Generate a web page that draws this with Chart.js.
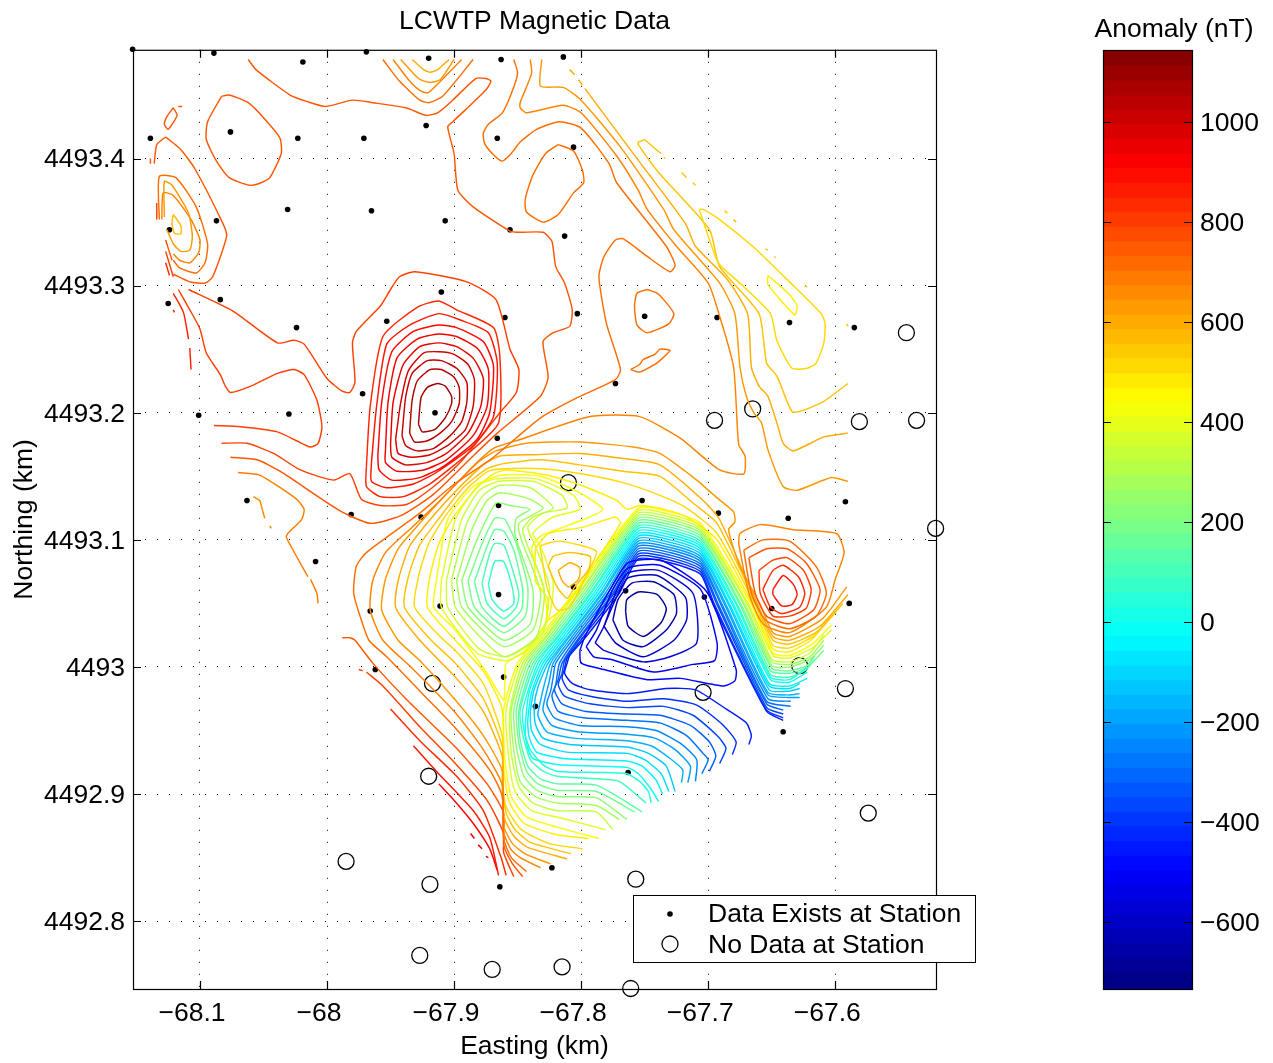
<!DOCTYPE html>
<html><head><meta charset="utf-8">
<script src="https://cdn.jsdelivr.net/npm/chart.js@4"></script>
<style>html,body{margin:0;padding:0;background:#fff;width:1273px;height:1063px;overflow:hidden}
canvas{position:absolute;top:0}</style></head>
<body>
<canvas id="map" width="1075" height="1063" style="left:0"></canvas>
<canvas id="bar" width="198" height="1063" style="left:1075px"></canvas>
<script>
// All map coordinates are metres relative to Easting -68 km / Northing 4493 km
const eastBaseKm = -68, northBaseKm = 4493;
const xRangeM = [-152.7, 479.3], yRangeM = [-253.4, 485.6];
const xTicks = [-68.1,-68,-67.9,-67.8,-67.7,-67.6];
const yTicks = [4492.8,4492.9,4493,4493.1,4493.2,4493.3,4493.4];
const cbTicks = [-600,-400,-200,0,200,400,600,800,1000];
const cbEdges = [-734,-705,-676,-646,-617,-588,-559,-529,-500,-471,-442,-412,-383,-354,-325,-295,-266,-237,-208,-178,-149,-120,-91,-61,-32,-3,26,56,85,114,143,173,202,231,260,290,319,348,377,407,436,465,494,524,553,582,611,641,670,699,728,758,787,816,845,875,904,933,962,992,1021,1050,1079,1109,1144];

const stationsData = [-153,486,-89,483,-19,476,31,484,80,479,137,478,186,480,-139,416,-76,421,-23,416,29,416,78,426,134,416,194,409,-31,360,35,359,93,351,-87,351,-124,344,144,344,187,339,-125,286,-84,289,90,295,-24,267,47,272,140,275,197,278,250,276,307,275,364,271,415,267,28,215,227,223,-101,198,-30,199,85,200,134,180,-63,131,19,120,74,118,135,127,248,131,308,121,363,117,408,130,-9,83,34,44,89,48,135,57,194,63,235,60,297,55,350,46,411,50,38,-2,139,-8,164,-31,359,-51,237,-83,177,-158,136,-173];
const stationsNoData = [456,263,305,194,335,203,419,193,464,194,190,145,479,109,372,1,83,-13,296,-20,408,-17,80,-86,426,-115,15,-153,81,-171,243,-167,73,-227,130,-238,185,-236,239,-253];

// Closed rings: [level, x,y,x,y...]
const peakRings = [
[1080,[72,191,75,185,85,187,93,196,98,207,98,213,93,221,87,223,79,220,74,212]],
[1050,[65,184,69,177,79,178,89,184,98,193,104,207,104,220,100,228,90,234,81,234,71,225,67,210]],
[1020,[59,182,62,174,71,170,84,172,97,182,106,193,110,208,110,224,102,235,90,241,79,241,67,231,62,213]],
[990,[54,179,56,168,67,165,81,167,96,175,109,187,115,205,116,226,111,238,100,246,88,248,76,247,64,233,58,208]],
[960,[50,175,51,165,62,159,79,161,94,168,111,184,121,205,123,227,115,243,102,252,88,255,73,252,60,238,52,208]],
[930,[46,171,46,161,55,154,76,155,94,163,115,182,126,205,127,234,119,250,102,260,88,262,71,258,55,243,48,208]],
[900,[40,166,41,155,51,147,73,149,92,158,118,179,128,200,131,237,123,256,102,267,88,269,68,264,51,248,43,208]],
[870,[35,161,35,146,47,141,68,144,86,153,115,174,131,197,134,239,127,263,105,273,88,278,65,269,47,254,39,205]],
[840,[31,158,31,142,42,134,60,134,81,144,111,168,135,192,136,245,131,267,102,281,88,288,71,283,44,260,34,205]]
];
const sidePeakRings = [
[870,[351,61,359,72,367,65,370,57,366,49,358,48,351,57]],
[830,[343,61,351,76,359,80,371,71,376,58,372,47,358,42,349,47]],
[790,[340,76,351,84,362,86,375,76,381,61,377,46,364,40,351,40,341,58]],
[750,[332,86,346,93,362,93,377,82,388,61,383,45,364,34,346,40,337,58]],
[710,[328,92,343,100,364,99,385,79,393,58,385,40,364,30,345,37,334,58]],
[670,[324,97,325,105,341,112,367,108,401,105,407,90,400,69,393,47,364,27,343,34,332,58]],
[590,[182,76,191,82,199,78,198,69,190,63,185,68]],
[550,[174,79,178,87,191,90,207,87,206,77,195,63,189,54,181,63]],
[510,[169,87,168,95,183,99,212,91,206,76,191,47,181,45,173,63]],
[470,[164,93,174,105,202,110,227,118,231,113,212,84,199,63,183,44,173,37,174,53,164,68]],
[-690,[235,44,236,53,245,59,260,57,267,46,263,35,249,24,237,32]],
[-650,[225,37,229,53,240,66,257,67,273,57,275,42,267,29,249,16,233,21]],
[-610,[218,32,227,53,237,70,260,72,282,55,283,37,273,21,249,8,227,19]],
[-570,[211,19,218,32,227,58,237,74,261,76,288,58,291,19,270,8,249,4,218,13]],
[-530,[204,16,212,29,225,61,237,78,262,80,294,61,307,19,305,5,288,2,257,-4,223,6,210,8]],
[-490,[199,13,203,24,224,63,237,82,263,84,299,59,322,-2,321,-11,312,-15,278,-9,252,-10,218,-2,200,3]]
];
const lobeRings = [
[70,[127,65,132,83,139,83,145,66,147,50,139,44,130,53]],
[110,[122,66,128,89,132,97,139,96,144,83,151,58,149,47,139,38,126,50]],
[150,[116,67,126,95,132,108,139,107,147,92,154,61,153,45,139,32,122,47]],
[190,[111,68,122,97,132,117,140,116,149,97,158,63,156,40,139,27,116,47]],
[230,[106,68,118,100,133,129,144,127,160,124,149,117,148,104,162,61,160,34,139,21,111,47]],
[270,[102,68,114,108,126,131,136,137,157,133,170,125,151,113,153,100,168,59,162,29,139,16,106,47]],
[310,[98,68,110,113,123,135,136,143,160,141,178,125,162,118,154,108,158,95,171,61,165,24,140,8,123,21,101,47]],
[350,[94,68,106,116,120,139,135,146,162,146,185,135,189,125,170,121,158,110,164,95,175,63,170,27,157,16,141,8,120,14,95,47]],
[390,[90,68,101,116,119,143,133,148,165,148,194,135,199,124,178,118,162,105,168,95,178,66,174,37,157,13,141,5,118,11,90,47]],
[430,[86,68,95,116,115,142,138,151,168,150,199,137,217,124,202,116,168,103,161,93,170,63,173,37,156,13,141,3,140,-9,139,-26,126,-5,101,29,84,47]],
[750,[-83,449,-77,450,-62,444,-48,430,-37,416,-36,404,-45,385,-52,381,-61,379,-77,385,-87,398,-95,415,-94,429]],
[750,[-121,440,-118,434,-125,423,-128,427,-126,433]],
[710,[182,411,172,404,162,387,156,368,157,358,170,350,182,356,194,373,202,381,201,391,194,406]],
[710,[239,234,246,238,249,242,258,246,262,250,266,250,270,249,263,242,258,238,246,232]],
[710,[252,297,244,294,242,284,244,269,252,263,269,270,273,278,265,289,260,294]],
[510,[293,360,296,360,309,352,336,330,364,303,389,278,392,270,391,255,385,239,378,235,366,235,354,257,349,278,325,302,308,318,294,357]],
[470,[347,308,347,301,368,277,370,284,364,293]],
[560,[-121,356,-115,347,-115,341,-120,341,-122,349]]
];
// Open lines that run along the ridge and neck
const ridgeLines = [
[790,[-83,176,-63,176,-42,168,-21,155,5,147,18,152,27,132,42,127,63,128,84,142,105,161,136,200,149,216,151,234,144,250,133,289,110,303,69,311,57,307,50,297,42,284,23,264,20,255,22,224,18,216,12,217,0,227,-18,254,-26,257,-39,255,-74,280,-109,297]],
[790,[-89,190,-68,189,-39,185,-24,178,-13,173,-7,176,-4,189,-8,210,-18,230,-26,234,-39,231,-60,221,-76,216,-80,221,-84,230,-95,247,-100,266,-108,281,-117,297]],
[750,[-62,478,-56,470,-29,450,-16,445,-1,441,20,446,36,444,62,440,78,434,87,436,99,446,117,463,125,463,129,461,125,454,99,429,95,425,100,404,103,375,115,362,144,343,152,342,170,342,177,335,180,315,187,302,193,281,191,268,178,263,170,256,174,228,168,213,134,184,115,166,84,136,58,119,34,113,10,123,-37,154,-55,163,-76,165]],
[710,[157,-161,145,-150,139,-135,138,-102,128,-81,101,-48,76,-22,47,8,33,21,26,40,21,58,23,79,31,90,73,121,99,143,131,165,168,196,195,211,227,226,231,234,220,270,214,307,218,323,227,336,233,337,252,323,270,311,274,316,267,331,228,381,222,396,200,424,183,429,165,423,152,413,145,404,138,398,131,403,124,412,123,420,127,427,138,436,145,451,150,467,147,478]],
[670,[168,-158,152,-150,145,-144,139,-130,138,-93,123,-65,101,-36,67,-1,44,21,34,45,36,68,46,90,67,110,89,131,115,158,131,172,152,179,207,197,246,197,278,180,309,155,328,152,329,166,324,175,320,236,309,276,300,302,275,331,252,360,245,375,228,402,200,436,186,442,157,436,152,440,152,444,161,467,160,478]],
[630,[176,-155,156,-147,146,-139,139,-125,138,-82,123,-54,101,-26,73,5,56,21,43,45,46,69,56,93,73,113,95,137,120,162,133,170,157,176,199,177,241,173,262,168,291,147,307,133,320,122,321,114,316,108,325,79,341,49,351,27,364,24,390,38,409,63]],
[590,[189,-151,158,-142,147,-133,140,-120,138,-102,138,-71,123,-35,101,-8,73,21,54,47,56,68,65,95,82,117,102,139,123,159,136,166,162,167,199,168,233,164,262,159,296,131,309,116,339,49,351,24,364,21,388,32,410,57]],
[550,[192,-147,160,-138,148,-128,141,-115,138,-94,138,-63,123,-25,101,3,82,21,61,47,64,71,73,96,89,118,107,141,126,156,139,160,168,163,199,159,233,154,262,150,288,129,307,113,338,49,351,21,364,18,386,28,406,50]],
[510,[201,-143,175,-139,153,-128,141,-110,138,-86,138,-55,123,-13,101,13,92,21,69,47,72,71,80,97,94,120,111,141,127,154,139,156,170,156,200,152,233,145,262,135,283,125,307,105,337,49,351,17,364,15,384,25,401,44]],
[470,[206,-135,181,-132,155,-123,143,-105,139,-78,139,-47,137,-30,123,-3,101,21,79,47,81,71,88,97,101,120,118,141,131,152,141,155,173,151,200,143,228,131,236,124,246,127,262,125,283,118,307,100,335,49,351,14,364,12,382,22,397,41]]
];
// Lines of the inverted V: lower-right edge, neck, left arm, crest, right arm, right edge
const fanLines = [
[430,[214,-135,181,-126,157,-118,145,-102,140,-73,139,-34,150,3,168,24,194,58,245,125,270,122,294,113,334,49,351,11,364,9,382,18,397,33]],
[380,[219,-128,185,-119,161,-113,148,-98,143,-71,141,-34,152,3,170,24,196,58,245,123,270,120,294,111,332,49,351,9,364,7,382,15,397,29]],
[330,[225,-128,212,-114,181,-113,162,-107,151,-94,145,-68,144,-34,154,3,172,24,198,58,245,121,270,118,294,109,331,49,350,6,364,4,380,11,391,25]],
[280,[230,-120,212,-109,181,-107,164,-102,152,-90,147,-65,145,-34,156,3,173,24,199,58,245,119,270,116,294,107,329,49,350,4,364,2,380,8,391,21]],
[230,[236,-120,212,-103,181,-102,165,-97,155,-86,149,-63,147,-34,158,3,175,24,201,58,245,117,270,114,294,105,328,49,350,1,364,0,380,6,391,17]],
[180,[242,-114,212,-98,181,-97,166,-92,157,-82,151,-60,149,-34,160,3,177,24,203,58,245,115,270,112,294,103,326,49,350,-1,364,-3,380,2,391,13]],
[130,[248,-114,212,-93,181,-92,168,-88,158,-78,152,-57,151,-34,162,3,179,24,205,58,245,113,270,110,294,101,325,49,349,-3,364,-5,376,-1,384,9]],
[80,[251,-107,230,-90,212,-88,181,-86,170,-82,160,-73,154,-53,152,-34,164,3,181,24,207,58,245,111,270,108,294,99,323,49,349,-6,364,-8,376,-3,384,6]],
[30,[255,-107,253,-98,246,-90,236,-84,212,-83,181,-82,170,-77,160,-65,155,-50,154,-34,166,3,182,24,208,58,245,109,270,106,294,97,322,49,349,-8,364,-10,378,0]],
[-10,[261,-106,255,-96,245,-84,236,-79,183,-77,162,-72,157,-60,156,-47,159,-20,168,3,184,24,210,58,245,107,270,104,294,95,320,49,349,-10,364,-12,378,-4]],
[-50,[264,-100,259,-89,248,-78,236,-74,186,-72,165,-67,159,-55,158,-42,161,-20,170,3,186,24,212,58,245,105,270,102,294,93,319,49,348,-13,364,-15,378,-9]],
[-90,[269,-98,263,-84,250,-73,236,-68,189,-67,168,-61,161,-50,160,-36,163,-18,172,3,188,24,214,58,245,103,270,100,294,91,317,49,348,-15,364,-17,372,-13]],
[-130,[274,-98,267,-78,253,-68,236,-63,191,-61,170,-56,164,-45,163,-31,166,-16,174,3,190,24,216,58,245,101,270,98,294,89,316,49,348,-18,364,-19,372,-17]],
[-170,[279,-91,280,-81,270,-72,255,-62,236,-58,194,-56,173,-51,166,-38,168,-27,171,-14,176,3,191,24,217,58,245,99,270,96,294,87,314,49,347,-20,364,-22,372,-21]],
[-210,[284,-91,286,-78,274,-65,258,-56,236,-53,197,-51,177,-46,170,-34,172,-23,175,-11,178,3,193,24,219,58,245,97,270,94,294,85,313,49,347,-22,364,-24,372,-24]],
[-250,[290,-90,291,-73,278,-60,259,-50,236,-47,199,-46,179,-40,173,-29,176,-19,178,-8,180,3,195,24,221,58,245,95,270,92,294,83,311,49,347,-25,365,-27]],
[-290,[295,-84,300,-73,296,-68,283,-54,262,-44,236,-42,202,-40,182,-35,177,-23,180,-14,183,3,197,24,223,58,245,93,270,90,294,81,310,49,346,-27,365,-31]],
[-330,[301,-82,306,-70,301,-59,286,-46,262,-38,236,-37,204,-35,185,-29,179,-18,182,-10,185,3,199,24,225,58,245,91,270,88,294,79,308,49,346,-29,359,-34]],
[-370,[309,-76,314,-64,307,-54,288,-38,265,-31,236,-32,207,-29,187,-23,182,-14,185,-5,187,5,200,24,226,58,245,89,270,86,294,77,307,49,346,-32,359,-37]],
[-410,[319,-69,322,-59,312,-46,291,-30,265,-25,236,-27,207,-23,190,-18,185,-9,187,-1,189,7,202,24,228,58,245,87,270,84,294,75,305,49,346,-34,359,-40]],
[-450,[332,-61,334,-54,330,-44,314,-33,290,-18,267,-17,236,-21,207,-18,193,-13,187,-5,189,3,191,9,204,24,230,58,245,85,270,82,294,73,304,49,346,-35,359,-42]]
];
// Other open lines and short fragments at the masked edges
const edgeLines = [
[750,[154,-165,146,-155,139,-140,139,-115,126,-92,101,-63,63,-26,36,3,22,21,18,23,12,23]],
[790,[147,-165,139,-146,139,-131,126,-105,101,-76,73,-47,44,-15,31,-4]],
[830,[141,-164,137,-150,123,-113,102,-86,73,-58,50,-33]],
[870,[135,-164,128,-134,115,-113,86,-82,68,-62]],
[910,[134,-160,128,-143,115,-123,101,-106,88,-92]],
[950,[113,-131,116,-135]],[950,[119,-140,122,-143]],[950,[125,-149,127,-150]],
[800,[25,-2,28,-3]],
[710,[44,478,57,461,73,446,80,444,91,449,115,478]],
[670,[52,478,65,461,74,453,80,452,106,478]],
[630,[58,478,72,463,80,460,89,462,100,478]],
[590,[67,478,76,470,81,468,87,470,96,478]],
[630,[169,478,168,457,186,456,200,446,231,409,265,360,273,344,309,302,321,278,325,236,330,213,336,200,342,192,347,171,359,142,370,139,397,149,410,146]],
[590,[191,470,195,466]],[590,[198,462,201,458]],
[590,[203,455,244,400,282,349,290,331,315,305,331,278,334,236,340,221,347,213,355,189,359,176,367,170,391,181,410,184]],
[550,[250,415,245,413,245,411,261,389,301,344,309,315,340,278,346,239,354,229,366,201,375,202,391,209,410,223]],
[550,[250,415,258,408]],[550,[258,408,263,404]],[550,[265,401,266,400]],[550,[279,389,283,385]],[550,[288,381,290,379]],[550,[313,359,315,357]],[550,[320,352,322,350]],[550,[345,329,347,328]],[550,[352,323,353,322]],[550,[376,300,378,299]],[550,[409,270,410,268]],
[630,[-128,354,-128,382,-122,379,-109,357,-106,339,-108,328,-115,327,-121,333,-126,344]],
[670,[-130,352,-129,373,-121,371,-107,352,-100,336,-101,326,-108,318,-116,320,-121,325]],
[710,[-132,352,-132,386,-119,385,-103,362,-94,333,-96,318,-103,310,-116,314,-121,320]],
[750,[-127,417,-134,411,-136,396]],
[750,[-127,417,-115,407,-104,392,-82,349,-79,339,-90,307,-96,302,-108,303,-121,309]],
[750,[-127,336,-122,320]],[790,[-127,327,-121,307]],[830,[-127,318,-124,308]],
[790,[-134,365,-134,352]],[750,[-139,400,-139,396]],[750,[-117,441,-114,441]],
[850,[-121,294,-113,279,-109,258]],[850,[-108,251,-107,234]],[850,[-121,281,-120,279]],
[680,[-70,153,-53,151,-24,132,-18,124,-20,116,-30,106,-32,102,-15,71]],
[680,[-13,69,-8,58,-7,50]],
[660,[-58,134,-53,131,-51,124,-49,117]],[660,[-45,111,-44,109]]
];

const cMin = -734, cMax = 1144;
function jet(v){
  const t=(v-cMin)/(cMax-cMin);
  const c=a=>Math.round(255*Math.max(0,Math.min(1,a)));
  return `rgb(${c(1.5-Math.abs(4*t-3))},${c(1.5-Math.abs(4*t-2))},${c(1.5-Math.abs(4*t-1))})`;
}
const toPts = (flat,close)=>{
  const p=[];
  for(let i=0;i<flat.length;i+=2)p.push({x:eastBaseKm+flat[i]/1000,y:northBaseKm+flat[i+1]/1000});
  if(close)p.push({...p[0]});
  return p;
};
const lineDs=(e,close)=>({type:'scatter',showLine:true,data:toPts(e[1],close),borderColor:jet(e[0]),backgroundColor:jet(e[0]),borderWidth:1.45,pointRadius:0,tension:0.2,fill:false});
const datasets=[
 ...peakRings.map(e=>lineDs(e,true)),...sidePeakRings.map(e=>lineDs(e,true)),...lobeRings.map(e=>lineDs(e,true)),
 ...ridgeLines.map(e=>lineDs(e,false)),...fanLines.map(e=>lineDs(e,false)),...edgeLines.map(e=>lineDs(e,false)),
 {type:'scatter',label:'Data Exists at Station',data:toPts(stationsData,false),pointRadius:2.8,pointBackgroundColor:'#000',pointBorderWidth:0,showLine:false,clip:false},
 {type:'scatter',label:'No Data at Station',data:toPts(stationsNoData,false),pointRadius:8,pointBackgroundColor:'rgba(0,0,0,0)',pointBorderColor:'#000',pointBorderWidth:1.3,showLine:false,clip:false}
];
const FONT='"Liberation Sans", Arial, sans-serif', FS=26.5;
const minus=s=>String(s).replace('-','\u2212');

const framePlugin={id:'frame',afterDatasetsDraw(ch){
  const {ctx,chartArea:a,scales}=ch;ctx.save();ctx.strokeStyle='#000';ctx.lineWidth=1.2;
  ctx.beginPath();
  const L=8;
  if(scales.x&&scales.x.options.display!==false){scales.x.ticks.forEach(t=>{const x=Math.round(scales.x.getPixelForValue(t.value))+.5;ctx.moveTo(x,a.bottom);ctx.lineTo(x,a.bottom-L);ctx.moveTo(x,a.top);ctx.lineTo(x,a.top+L);});}
  scales.y.ticks.forEach(t=>{const y=Math.round(scales.y.getPixelForValue(t.value))+.5;ctx.moveTo(a.left,y);ctx.lineTo(a.left+L,y);ctx.moveTo(a.right,y);ctx.lineTo(a.right-L,y);});
  ctx.stroke();
  ctx.strokeRect(a.left+.5,a.top+.5,a.width,a.height);
  ctx.restore();
}};
const legendBoxPlugin={id:'legendBox',afterDraw(ch){
  const c=ch.ctx;c.save();
  c.fillStyle='#fff';c.strokeStyle='#000';c.lineWidth=1;
  c.fillRect(633,895,342,67);c.strokeRect(633.5,895.5,342,67);
  c.fillStyle='#000';c.beginPath();c.arc(670,914,2.8,0,7);c.fill();
  c.lineWidth=1.3;c.beginPath();c.arc(670,944,8,0,7);c.stroke();
  c.font=`${FS}px ${FONT}`;c.textBaseline='middle';c.textAlign='left';
  c.fillText('Data Exists at Station',708,915);c.fillText('No Data at Station',708,946);
  c.restore();
}};
const cbTitlePlugin={id:'cbTitle',afterDraw(ch){
  const c=ch.ctx;c.save();c.fillStyle='#000';c.font=`${FS}px ${FONT}`;c.textAlign='center';c.textBaseline='middle';
  c.fillText('Anomaly (nT)',99,30);c.restore();
}};
new Chart(document.getElementById('map'),{
 type:'scatter',
 data:{datasets},
 plugins:[framePlugin,legendBoxPlugin],
 options:{responsive:false,animation:false,devicePixelRatio:1,
  layout:{padding:{left:0,right:139,top:0,bottom:0}},
  plugins:{legend:{display:false},tooltip:{enabled:false},
   title:{display:true,fullSize:false,text:'LCWTP Magnetic Data',color:'#000',font:{family:FONT,size:FS,weight:'normal'},padding:{top:6,bottom:12}}},
  scales:{
   x:{type:'linear',min:eastBaseKm+xRangeM[0]/1000,max:eastBaseKm+xRangeM[1]/1000,
     afterBuildTicks:s=>{s.ticks=xTicks.map(v=>({value:v}));},
     afterFit:s=>{s.height=74;},
     grid:{color:'#000',lineWidth:1,drawTicks:false},border:{display:false,dash:[1,11]},
     ticks:{color:'#000',font:{family:FONT,size:FS},padding:9,labelOffset:-8,maxRotation:0,autoSkip:false,callback:v=>minus(+v.toFixed(1))},
     title:{display:true,text:'Easting (km)',color:'#000',font:{family:FONT,size:FS},padding:{top:0,bottom:0}}},
   y:{type:'linear',min:northBaseKm+yRangeM[0]/1000,max:northBaseKm+yRangeM[1]/1000,
     afterBuildTicks:s=>{s.ticks=yTicks.map(v=>({value:v}));},
     afterFit:s=>{s.width=133;},
     grid:{color:'#000',lineWidth:1,drawTicks:false},border:{display:false,dash:[1,11]},
     ticks:{color:'#000',font:{family:FONT,size:FS},padding:8,labelOffset:1.5,autoSkip:false,callback:v=>String(+v.toFixed(1))},
     title:{display:true,text:'Northing (km)',color:'#000',font:{family:FONT,size:FS},padding:{top:9,bottom:0}}}
  }}
});
const cbDatasets=[];
for(let i=0;i<cbEdges.length-1;i++){
  cbDatasets.push({data:[[cbEdges[i],cbEdges[i+1]+(i<cbEdges.length-2?3:0)]],backgroundColor:jet((cbEdges[i]+cbEdges[i+1])/2),borderWidth:0,barPercentage:1,categoryPercentage:1,grouped:false});
}
new Chart(document.getElementById('bar'),{
 type:'bar',
 data:{labels:['Anomaly'],datasets:cbDatasets},
 plugins:[framePlugin,cbTitlePlugin],
 options:{responsive:false,animation:false,devicePixelRatio:1,
  layout:{padding:{left:28,right:0,top:50,bottom:74}},
  plugins:{legend:{display:false},tooltip:{enabled:false},title:{display:false}},
  scales:{
   x:{display:false,stacked:false},
   y:{type:'linear',position:'right',min:cMin,max:cMax,
     afterBuildTicks:s=>{s.ticks=cbTicks.map(v=>({value:v}));},
     afterFit:s=>{s.width=81;},
     grid:{display:false,drawTicks:false},border:{display:false},
     ticks:{color:'#000',font:{family:FONT,size:FS},padding:8,labelOffset:2,autoSkip:false,callback:v=>minus(v)}}
  }}
});
</script>
</body></html>
